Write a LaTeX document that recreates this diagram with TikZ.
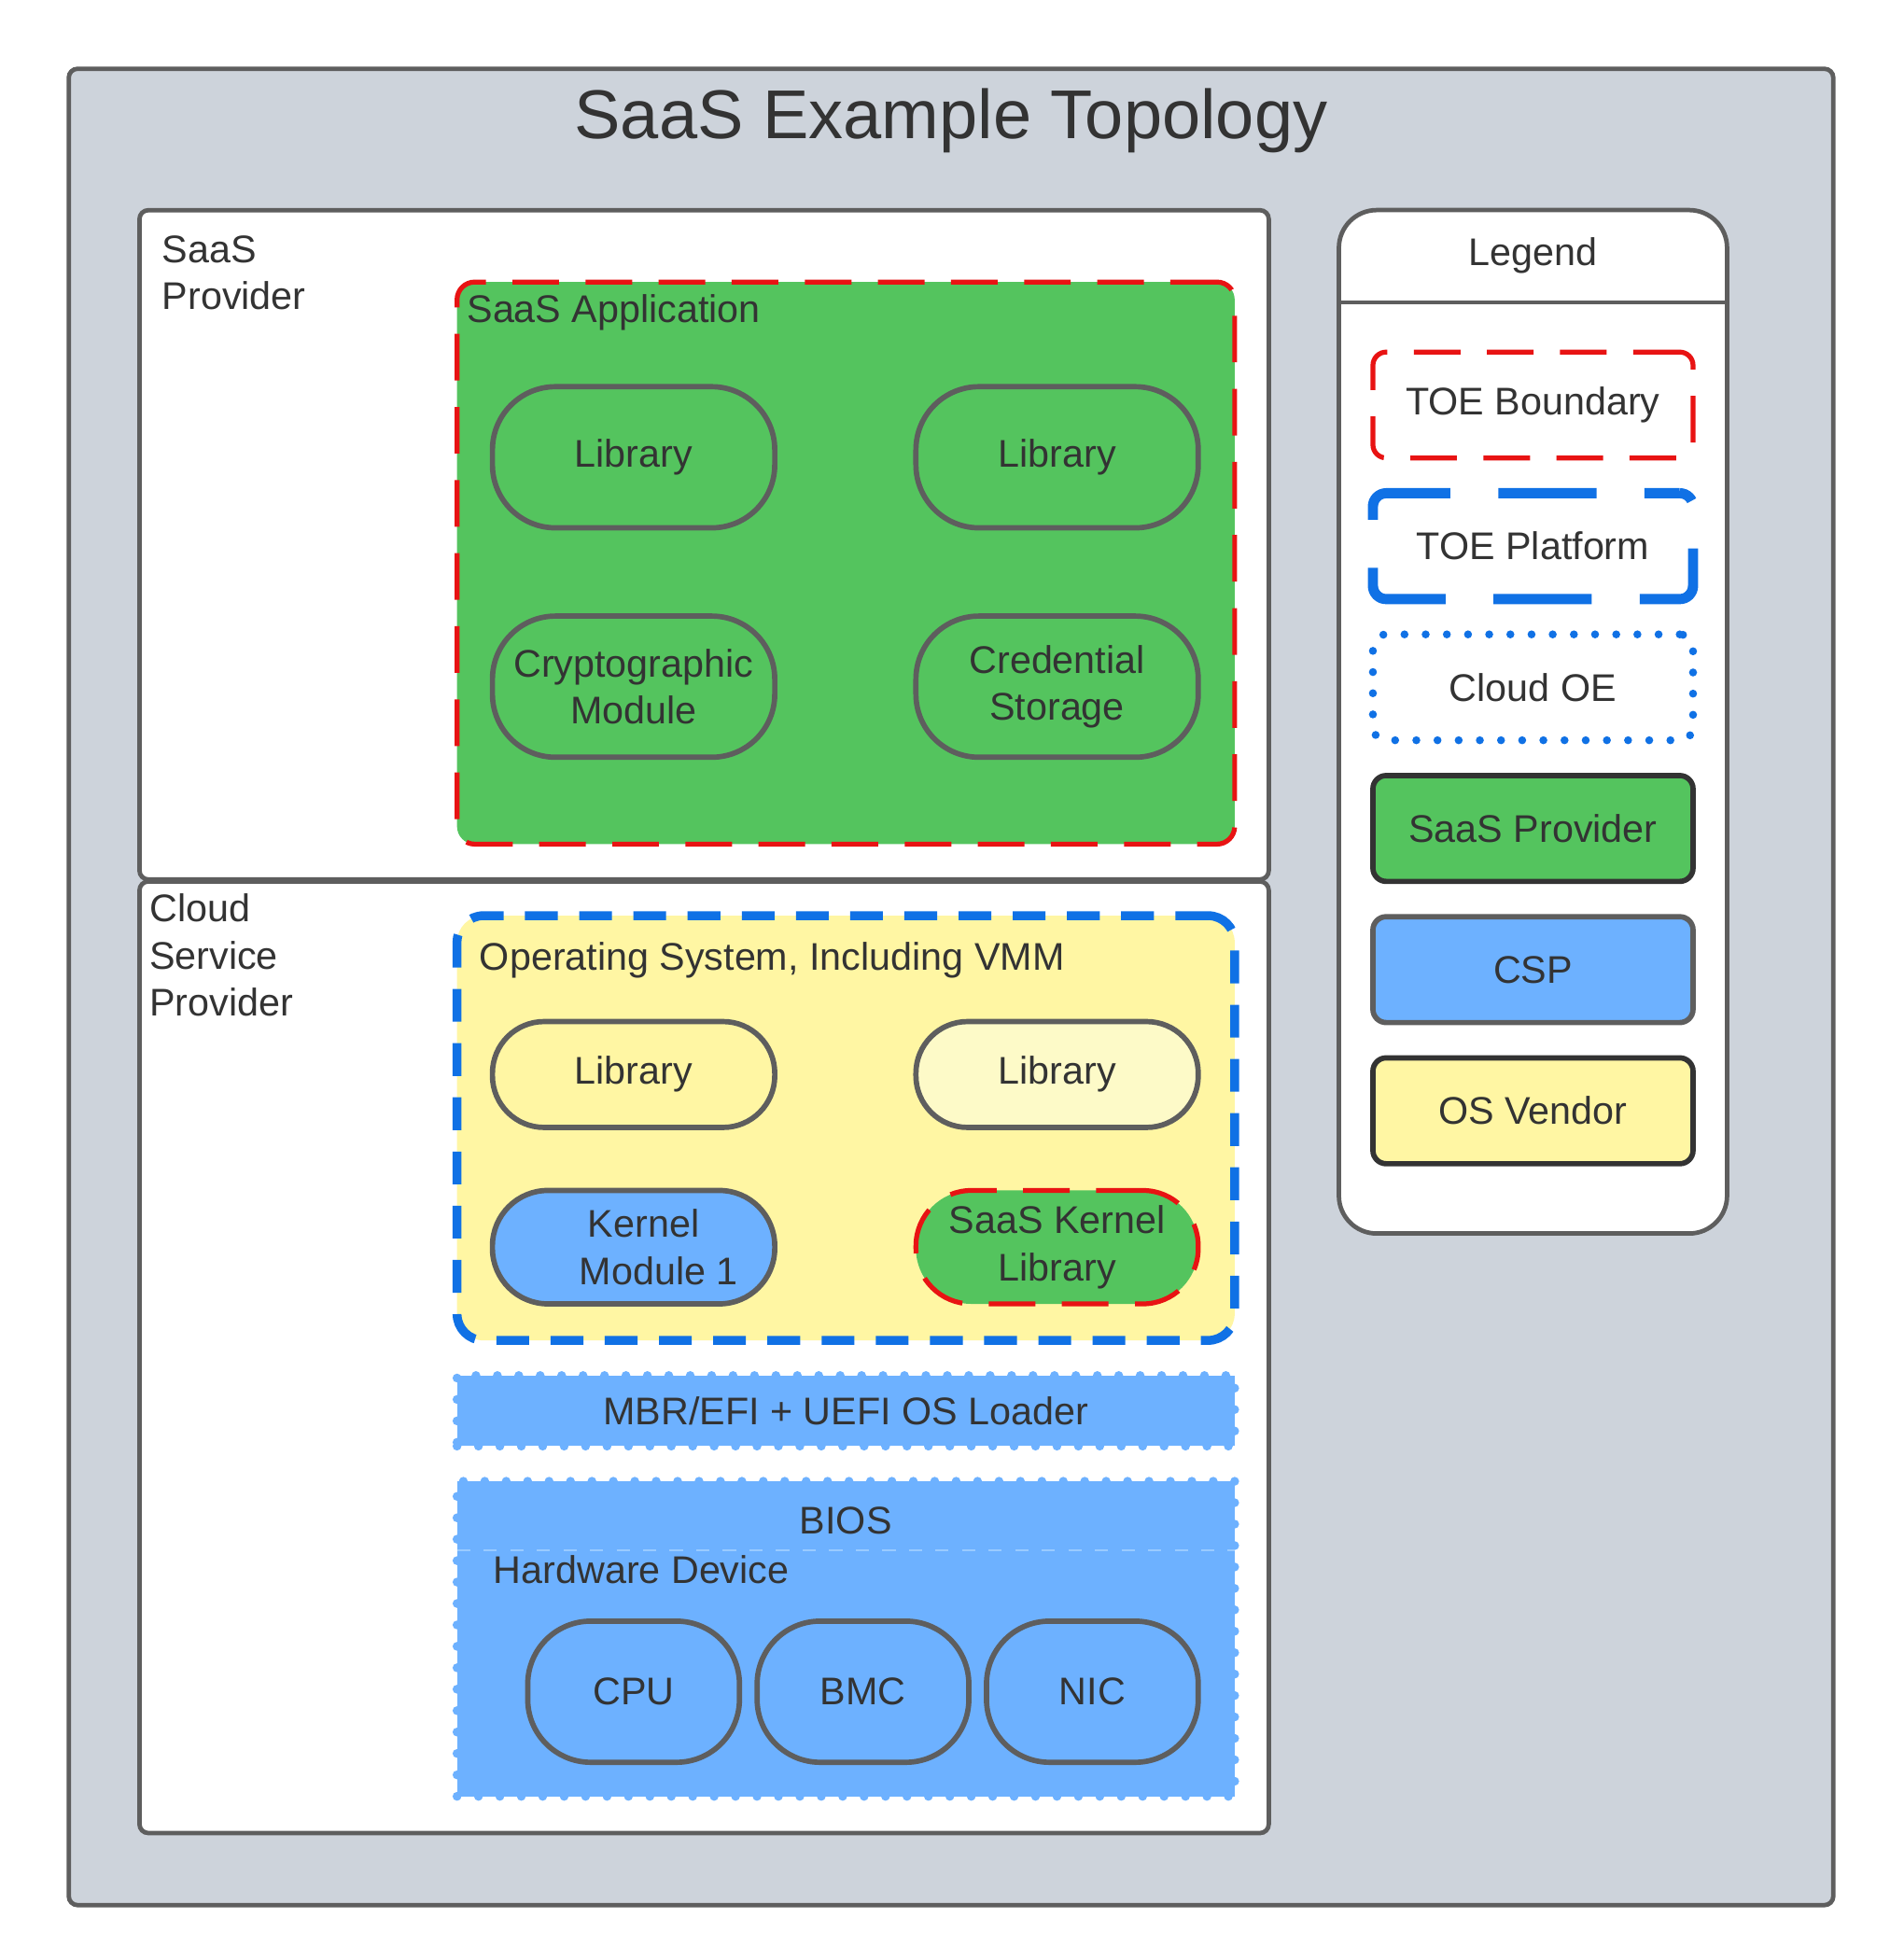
\documentclass[tikz,border=0pt]{standalone}
\usepackage{fontspec}
\setmainfont{Liberation Sans}
\usepackage{tikz}
\usetikzlibrary{positioning}

\definecolor{panel}{HTML}{CDD3DB}
\definecolor{edge}{HTML}{5E5E5E}
\definecolor{ink}{HTML}{333333}
\definecolor{saasgreen}{HTML}{54C45E}
\definecolor{toered}{HTML}{E81313}
\definecolor{platblue}{HTML}{1071E5}
\definecolor{cspblue}{HTML}{6DB1FF}
\definecolor{dotblue}{HTML}{9ACBFF}
\definecolor{osyellow}{HTML}{FFF6A3}
\definecolor{paleyellow}{HTML}{FDFAC8}

\begin{document}
\begin{tikzpicture}[x=0.01cm,y=-0.01cm,text=ink,
                    font=\fontsize{8.7}{10.6}\selectfont,
                    every node/.style={inner sep=0pt,outer sep=0pt}]
  \tikzstyle{region}=[draw=edge,line width=1pt,rounded corners=2pt,fill=white]
  \tikzstyle{pill}=[draw=edge,line width=1.2pt,rounded corners=0.5cm,
                    minimum width=2.24cm,minimum height=1.12cm,align=center]
  \tikzstyle{toe}=[draw=toered,line width=1.1pt,dash pattern=on 0.37cm off 0.21cm]
  \tikzstyle{platform}=[draw=platblue,line width=2pt,dash pattern=on 0.26cm off 0.17cm]
  \tikzstyle{cloudoe}=[draw=cspblue,line width=2pt,line cap=round,
                       dash pattern=on 0pt off 0.17cm]
  \tikzstyle{key}=[minimum width=2.54cm,minimum height=0.84cm,rounded corners=3pt]

  \useasboundingbox (0,0) rectangle (1500,1556);

  % frame and title
  \node[region,fill=panel,minimum width=14cm,minimum height=14.57cm] (frame) at (755,783.5) {};
  \node[anchor=base,font=\fontsize{15.6}{18}\selectfont] (title) at (755,110) {SaaS Example Topology};

  % provider regions
  \node[region,minimum width=8.96cm,minimum height=5.31cm] (saasprov) at (559,432.5) {};
  \node[region,minimum width=8.96cm,minimum height=7.55cm] (cspprov) at (559,1077.5) {};
  \node[below right=0.20cm and 0.18cm of saasprov.north west,anchor=north west,align=left]
       (saasprovlbl) {SaaS\\Provider};
  \node[below right=0.10cm and 0.08cm of cspprov.north west,anchor=north west,align=left]
       (cspprovlbl) {Cloud\\Service\\Provider};

  % SaaS application
  \node[toe,fill=saasgreen,rounded corners=4pt,minimum width=6.17cm,minimum height=4.46cm]
       (app) at (671.5,447) {};
  \node[below right=0.10cm and 0.08cm of app.north west,anchor=north west] (applbl) {SaaS Application};
  \node[pill,fill=saasgreen] (applib1) at (503,363) {Library};
  \node[pill,fill=saasgreen,right=1.12cm of applib1] (applib2) {Library};
  \node[pill,fill=saasgreen,below=0.70cm of applib1] (crypto) {Cryptographic\\Module};
  \node[pill,fill=saasgreen,right=1.12cm of crypto] (cred) {Credential\\Storage};

  % operating system
  \node[platform,fill=osyellow,rounded corners=6pt,minimum width=6.17cm,minimum height=3.37cm]
       (os) at (671.5,895.5) {};
  \node[below right=0.21cm and 0.18cm of os.north west,anchor=north west] (oslbl) {Operating System, Including VMM};
  \node[pill,fill=osyellow,minimum height=0.84cm,rounded corners=0.41cm] (oslib1) at (503,853) {Library};
  \node[pill,fill=paleyellow,minimum height=0.84cm,rounded corners=0.41cm,right=1.12cm of oslib1] (oslib2) {Library};
  \node[pill,fill=cspblue,minimum height=0.90cm,rounded corners=0.44cm,below=0.50cm of oslib1]
       (kmod) {\hspace*{0.16cm}Kernel\\\hspace*{0.40cm}Module 1};
  \node[pill,toe,fill=saasgreen,minimum height=0.90cm,rounded corners=0.44cm,right=1.12cm of kmod]
       (kernlib) {SaaS Kernel\\Library};

  % loader, BIOS and hardware
  \node[cloudoe,fill=cspblue,minimum width=6.17cm,minimum height=0.56cm] (loader) at (671.5,1120)
       {MBR/EFI + UEFI OS Loader};
  \node[cloudoe,fill=cspblue,minimum width=6.17cm,minimum height=2.50cm] (fw) at (671.5,1301) {};
  \node[anchor=base] (bios) at (671.5,1218) {BIOS};
  \coordinate (fwsplit) at (671.5,1231);
  \draw[dotblue,thin,dashed] (fw.west |- fwsplit) -- (fw.east |- fwsplit);
  \node[below right=0.59cm and 0.29cm of fw.north west,anchor=north west] (hwlbl) {Hardware Device};
  \node[pill,fill=cspblue,minimum width=1.68cm] (cpu) at (503,1343) {CPU};
  \node[pill,fill=cspblue,minimum width=1.68cm,right=0.14cm of cpu] (bmc) {BMC};
  \node[pill,fill=cspblue,minimum width=1.68cm,right=0.14cm of bmc] (nic) {NIC};

  % legend
  \node[region,rounded corners=0.3cm,minimum width=3.08cm,minimum height=8.12cm] (legend) at (1217,573) {};
  \node[anchor=base] (legendlbl) at (1217,211) {Legend};
  \coordinate (legendhdr) at (1217,240);
  \draw[edge,line width=1pt] (legend.west |- legendhdr) -- (legend.east |- legendhdr);
  \node[key,toe,fill=white] (kbound) at (1217,321.5) {TOE Boundary};
  \node[key,draw=platblue,line width=2.3pt,dash pattern=on 0.78cm off 0.38cm,dash phase=0.5cm,
        fill=white,below=0.28cm of kbound] (kplat) {TOE Platform};
  \node[key,draw=platblue,line width=1.8pt,line cap=round,dash pattern=on 0pt off 0.168cm,
        fill=white,below=0.28cm of kplat] (koe) {Cloud OE};
  \node[key,draw=ink,line width=1.2pt,fill=saasgreen,below=0.28cm of koe] (ksaas) {SaaS Provider};
  \node[key,draw=edge,line width=1.2pt,fill=cspblue,below=0.28cm of ksaas] (kcsp) {CSP};
  \node[key,draw=ink,line width=1.2pt,fill=osyellow,below=0.28cm of kcsp] (kosv) {OS Vendor};
\end{tikzpicture}
\end{document}
